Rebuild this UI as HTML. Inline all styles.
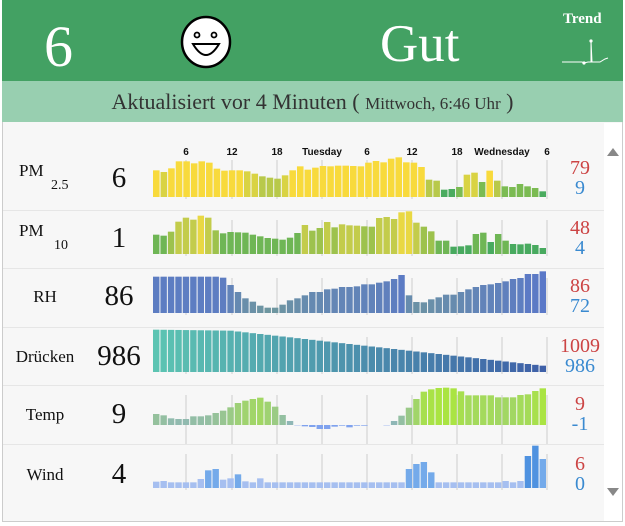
<!DOCTYPE html>
<html><head><meta charset="utf-8"><style>
html,body{margin:0;padding:0;background:#fff;}
body{width:625px;height:526px;overflow:hidden;position:relative;font-family:"Liberation Serif","DejaVu Serif",serif;}
.hdr{position:absolute;left:2px;top:0;width:621px;height:81px;background:#43a163;}
.sub{position:absolute;left:2px;top:81px;width:621px;height:41px;background:#98cfb0;text-align:center;line-height:41px;font-size:22px;color:#333;}
.panel{position:absolute;left:2px;top:122px;width:619px;height:399px;background:#f7f7f7;border:1px solid #ccc;border-top:none;}
.t{position:absolute;white-space:nowrap;}
</style></head><body>
<div class="hdr"></div>
<div class="t" style="left:44px;top:12px;font-size:58px;color:#fff;line-height:70px;">6</div>
<svg class="t" style="left:178px;top:15px" width="56" height="56"><ellipse cx="28" cy="27" rx="24" ry="25" fill="#fff" stroke="#000" stroke-width="2.5"/><circle cx="19" cy="20" r="2.5" fill="none" stroke="#000" stroke-width="1.8"/><circle cx="36" cy="20" r="2.5" fill="none" stroke="#000" stroke-width="1.8"/><path d="M15 29 Q28 51 41 29 Z" fill="#fff" stroke="#000" stroke-width="2"/></svg>
<div class="t" style="left:380px;top:12px;font-size:53px;color:#fff;line-height:64px;">Gut</div>
<div class="t" style="left:563px;top:11px;font-size:15px;color:#fff;font-weight:bold;">Trend</div>
<svg class="t" style="left:560px;top:36px" width="50" height="30"><polyline points="2,26 22,26 24,27 28,26 31,26 31,5 32,26 40,26 45,23 48,22" fill="none" stroke="#fff" stroke-width="1"/><circle cx="31" cy="5" r="1.6" fill="#fff"/><circle cx="24" cy="27" r="1.6" fill="#fff"/></svg>
<div class="sub">Aktualisiert vor 4 Minuten ( <span style="font-size:17px">Mittwoch, 6:46 Uhr</span> )</div>
<div class="panel"></div>
<svg id="c" class="t" style="left:0;top:0" width="625" height="526"></svg>
<script>
(function(){
var svg=document.getElementById('c'),h='';
function R(x,y,w,hh,f){h+='<rect x="'+x.toFixed(2)+'" y="'+y.toFixed(2)+'" width="'+w.toFixed(2)+'" height="'+hh.toFixed(2)+'" fill="'+f+'"/>';}
function T(x,y,s,st){h+='<text x="'+x+'" y="'+y+'" '+st+'>'+s+'</text>';}
var seps=[210,268,327,385,444];
seps.forEach(function(y){R(3,y,601,1,'#e6e6e6');});
R(604,123,18,398,'#fff');
h+='<polygon points="607,156 619,156 613,148" fill="#888"/><polygon points="607,488 619,488 613,496" fill="#888"/>';
var ticks=[186,232,277,322,367,412,457,502,547],tl=['6','12','18','Tuesday','6','12','18','Wednesday','6'];
var rows=[[150,197],[210,254],[268,313],[327,372],[385,442],[444,488]];
rows.forEach(function(r){ticks.forEach(function(x){R(x-0.75,r[0]+10,1.5,r[1]-r[0]-8,'#dcdcdc');});});
ticks.forEach(function(x,i){T(x,155,tl[i],'text-anchor="middle" font-family="Liberation Sans,Arial,sans-serif" font-size="10" font-weight="bold" fill="#111"');});
var x0=153,x1=547;
function bars(arr,base,col){var n=arr.length,w=(x1-x0)/n;arr.forEach(function(v,i){if(v===null)return;var x=x0+i*w;if(v>=0)R(x,base-v,w-1,v,col(v,i));else R(x,base,w-1,-v,col(v,i));});}
function z(a,b){return a.map(function(t){return (b-t)/3;});}
var pm25=z([117,122,111,90,90,96,90,94,112,118,117,117,120,127,135,139,142,132,117,105,115,109,104,105,103,103,104,105,94,89,93,82,78,93,94,107,145,148,175,173,167,130,124,152,118,148,165,167,158,165,170,180],197);
bars(pm25,197,function(v){return v>26?'#f8da3c':v>21?'#d9d343':v>15?'#b8c94a':v>8?'#7bbb52':'#4aab5f';});
var pm10=z([315,318,306,276,264,270,258,264,302,311,307,308,309,315,320,325,327,330,324,310,286,303,295,277,293,284,287,288,290,291,265,262,268,248,245,279,291,305,333,333,351,350,347,313,309,337,313,333,343,344,342,346,355],373);
bars(pm10,254,function(v){return v>38?'#e9d843':v>28?'#c3cc4b':v>22?'#9dc24d':v>12?'#6fb655':'#48aa5f';});
var rh=z([34,34,34,34,34,34,34,34,34,37,59,80,99,109,121,127,127,118,105,99,90,80,80,72,70,65,65,63,57,57,52,48,41,29,90,110,111,102,96,88,88,80,72,65,59,57,53,48,41,38,26,26,18],143);
bars(rh,313,function(v){var t=Math.max(0,Math.min(1,(v-5)/37));var r=Math.round(110-20*t),g=Math.round(150-30*t),b=Math.round(160+40*t);return 'rgb('+r+','+g+','+b+')';});
var pr=[];for(var k=0;k<53;k++){var tp0=k<10?28+k*0.3:31+(k-10)*(105/42);pr.push((155-tp0)/3);}
bars(pr,372,function(v,i){var t=i/52;return 'rgb('+Math.round(92-30*t)+','+Math.round(196-100*t)+','+Math.round(178-10*t)+')';});
var tp=[33,29,20,18,18,26,26,29,36,43,53,66,73,78,82,70,55,30,12,-1,-4,-6,-12,-12,-5,-2,-7,-2,-2,null,0,-1,12,28,52,78,100,107,111,112,110,101,89,89,89,89,83,83,83,90,92,102,110,112].slice(0,53).map(function(v){return v===null?null:v/3;});
bars(tp,425,function(v){if(v<0)return '#7fa2ee';var t=Math.min(1,v/37);return 'rgb('+Math.round(140+30*t)+','+Math.round(178+50*t)+','+Math.round(196-130*t)+')';});
var wd=[486,484,488,488,488,488,478,452,448,480,476,464,485,488,476,488];while(wd.length<34)wd.push(488);wd=wd.concat([448,433,427,458]);while(wd.length<47)wd.push(488);wd=wd.concat([484,488,484,409,378,418]);
bars(z(wd,505),488,function(v){return v>30?'#4f92e0':v>10?'#74aaea':'#a6bff0';});
var labs=[['PM','2.5'],['PM','10'],['RH'],['Drücken'],['Temp'],['Wind']],vals=['6','1','86','986','9','4'],hi=['79','48','86','1009','9','6'],lo=['9','4','72','986','-1','0'];
var cy=[178,238,296,356,414,474];
labs.forEach(function(l,i){var st='font-family="Liberation Serif,DejaVu Serif,serif" fill="#111"';
 if(l.length>1){T(19,cy[i]-2,'PM',st+' font-size="17"');T(l[1]=='2.5'?51:54,cy[i]+11,l[1],st+' font-size="14"');}
 else T(45,cy[i]+6,l[0],st+' font-size="17" text-anchor="middle"');
 T(119,cy[i]+9,vals[i],st+' font-size="29" text-anchor="middle"');
 T(580,cy[i]-4,hi[i],'font-family="Liberation Serif,DejaVu Serif,serif" font-size="20" fill="#cc4444" text-anchor="middle"');
 T(580,cy[i]+16,lo[i],'font-family="Liberation Serif,DejaVu Serif,serif" font-size="20" fill="#3a8ad0" text-anchor="middle"');
});
svg.innerHTML=h;
})();
</script>
</body></html>
